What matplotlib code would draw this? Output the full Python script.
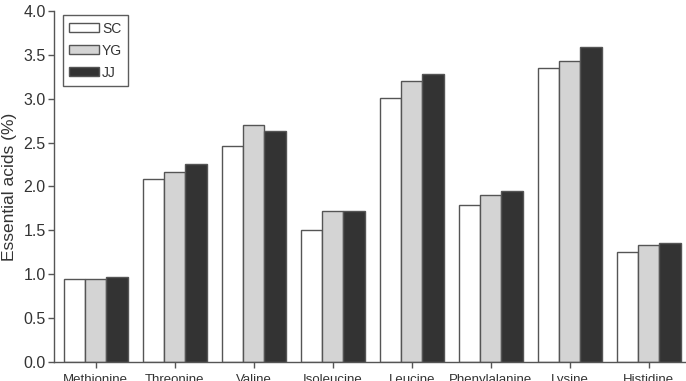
import matplotlib.pyplot as plt
import numpy as np

plt.rcParams['font.family'] = ['Liberation Sans', 'DejaVu Sans']

amino_acids = ['Methionine', 'Threonine', 'Valine', 'Isoleucine', 'Leucine',
               'Phenylalanine', 'Lysine', 'Histidine']
sc = [0.95, 2.08, 2.46, 1.50, 3.01, 1.79, 3.35, 1.25]
yg = [0.94, 2.17, 2.70, 1.72, 3.20, 1.90, 3.43, 1.33]
jj = [0.97, 2.26, 2.63, 1.72, 3.28, 1.95, 3.59, 1.36]

series = [('SC', sc, 'white'), ('YG', yg, '#d4d4d4'), ('JJ', jj, '#333333')]

fig = plt.figure(figsize=(6.86, 3.81), dpi=100)
ax = fig.add_axes([0.079, 0.05, 0.93, 0.921])

x = np.arange(len(amino_acids))
w = 0.27
for i, (name, vals, color) in enumerate(series):
    ax.bar(x + (i - 1) * w, vals, w, label=name, color=color,
           edgecolor='#555555', linewidth=1.0)

ax.set_xlim(-0.525, 7.55)
ax.set_ylim(0, 4.0)
ax.set_yticks(np.arange(0, 4.01, 0.5))
ax.set_yticklabels([f'{v:.1f}' for v in np.arange(0, 4.01, 0.5)], fontsize=11.5, color='#333333')
ax.set_xticks(x)
# labels run off the bottom edge, as in the original figure
ax.set_xticklabels(amino_acids, fontsize=9.5, color='#333333')
ax.tick_params(axis='both', direction='out', length=4, color='#555555', width=1)
ax.tick_params(axis='x', pad=5)
ax.tick_params(axis='y', pad=2)
ax.set_ylabel('Essential acids (%)', fontsize=12.5, color='#333333', labelpad=5)

for s in ['top', 'right']:
    ax.spines[s].set_visible(False)
for s in ['left', 'bottom']:
    ax.spines[s].set_color('#555555')
    ax.spines[s].set_linewidth(1.0)

leg = ax.legend(loc='upper left', bbox_to_anchor=(0.014, 0.988), borderaxespad=0,
                fontsize=10, fancybox=False, edgecolor='#333333', handlelength=2.1,
                handleheight=0.65, labelspacing=0.58, borderpad=0.45, handletextpad=0.25)
leg.get_frame().set_linewidth(1.0)
for t in leg.get_texts():
    t.set_color('#333333')

fig.savefig('out.png', dpi=100)
